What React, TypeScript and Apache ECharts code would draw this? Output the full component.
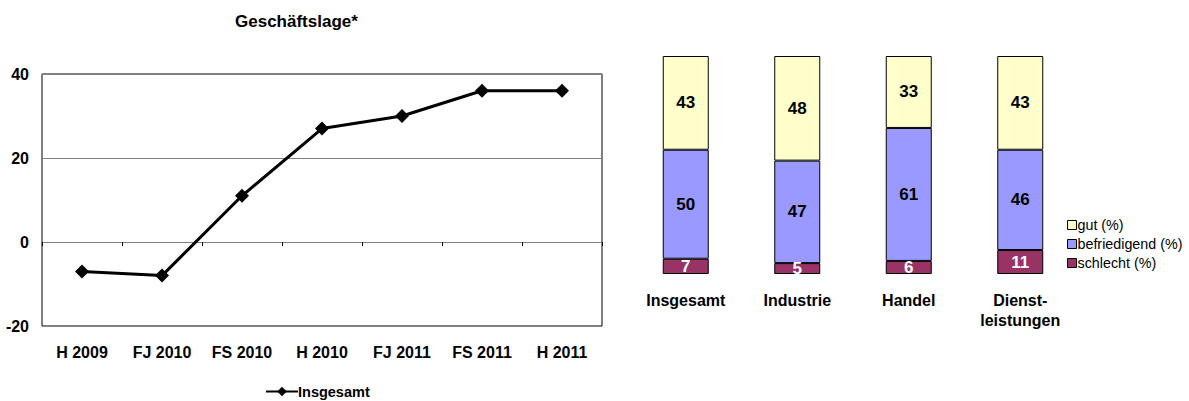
import React, { useEffect, useRef } from "react";
import * as echarts from "echarts";

const periods = ["H 2009", "FJ 2010", "FS 2010", "H 2010", "FJ 2011", "FS 2011", "H 2011"];
const insgesamt = [-7, -8, 11, 27, 30, 36, 36];

const sectors = ["Insgesamt", "Industrie", "Handel", "Dienst-\nleistungen"];
const schlecht = [7, 5, 6, 11];
const befriedigend = [50, 47, 61, 46];
const gut = [43, 48, 33, 43];

const FONT = "Liberation Sans, Arial, sans-serif";

export default function App() {
  const ref = useRef<HTMLDivElement>(null);
  useEffect(() => {
    if (!ref.current) return;
    const chart = echarts.init(ref.current, null, { renderer: "svg" });
    const barLabel = (color: string) => ({
      show: true,
      position: "inside",
      color,
      fontFamily: FONT,
      fontWeight: "bold",
      fontSize: 17,
    });
    chart.setOption({
      animation: false,
      textStyle: { fontFamily: FONT },
      title: {
        text: "Geschäftslage*",
        left: 230,
        top: 8,
        textStyle: { fontFamily: FONT, fontWeight: "bold", fontSize: 17, color: "#000" },
      },
      legend: [
        {
          data: ["Insgesamt"],
          left: 260,
          top: 379,
          itemWidth: 32,
          itemHeight: 12,
          textStyle: {
            fontFamily: FONT,
            fontWeight: "bold",
            fontSize: 14.5,
            color: "#000",
            padding: [0, 0, 0, -5],
          },
        },
        {
          data: ["gut (%)", "befriedigend (%)", "schlecht (%)"],
          orient: "vertical",
          left: 1062,
          top: 213,
          itemWidth: 9,
          itemHeight: 9,
          itemGap: 5,
          icon: "rect",
          itemStyle: { borderColor: "#000", borderWidth: 1 },
          textStyle: { fontFamily: FONT, fontSize: 14.3, color: "#000", padding: [0, 0, 0, -4] },
        },
      ],
      grid: [
        { left: 42, top: 74, width: 560, height: 252, show: true, borderColor: "#000", borderWidth: 1 },
        { left: 630, top: 56, width: 446, height: 218 },
      ],
      xAxis: [
        {
          gridIndex: 0,
          type: "category",
          data: periods,
          position: "bottom",
          axisLine: { show: false, onZero: false },
          axisTick: { show: false },
          axisLabel: { margin: 18, fontFamily: FONT, fontWeight: "bold", fontSize: 16, color: "#000" },
        },
        {
          gridIndex: 0,
          type: "category",
          data: periods,
          position: "top",
          axisLine: { show: true, onZero: true, lineStyle: { color: "#808080", width: 1 } },
          axisTick: { show: true, inside: true, length: 4, lineStyle: { color: "#000" } },
          axisLabel: { show: false },
        },
        {
          gridIndex: 1,
          type: "category",
          data: sectors,
          axisLine: { show: false },
          axisTick: { show: false },
          axisLabel: {
            margin: 16,
            fontFamily: FONT,
            fontWeight: "bold",
            fontSize: 16,
            color: "#000",
            lineHeight: 20,
          },
        },
      ],
      yAxis: [
        {
          gridIndex: 0,
          type: "value",
          min: -20,
          max: 40,
          interval: 20,
          axisLine: { show: false },
          axisTick: { show: false },
          axisLabel: { margin: 13, fontFamily: FONT, fontWeight: "bold", fontSize: 16, color: "#000" },
          splitLine: { show: true, lineStyle: { color: "#808080", width: 1 } },
        },
        {
          gridIndex: 1,
          type: "value",
          min: 0,
          max: 100,
          show: false,
        },
      ],
      series: [
        {
          name: "Insgesamt",
          type: "line",
          xAxisIndex: 0,
          yAxisIndex: 0,
          data: insgesamt,
          color: "#000",
          lineStyle: { color: "#000", width: 3 },
          symbol: "diamond",
          symbolSize: 14,
          itemStyle: { color: "#000" },
        },
        {
          name: "schlecht (%)",
          type: "bar",
          stack: "s",
          xAxisIndex: 2,
          yAxisIndex: 1,
          data: schlecht,
          barWidth: 46,
          itemStyle: { color: "#993366", borderColor: "#000", borderWidth: 1 },
          label: barLabel("#fff"),
        },
        {
          name: "befriedigend (%)",
          type: "bar",
          stack: "s",
          xAxisIndex: 2,
          yAxisIndex: 1,
          data: befriedigend,
          barWidth: 46,
          itemStyle: { color: "#9999FF", borderColor: "#000", borderWidth: 1 },
          label: barLabel("#000"),
        },
        {
          name: "gut (%)",
          type: "bar",
          stack: "s",
          xAxisIndex: 2,
          yAxisIndex: 1,
          data: gut,
          barWidth: 46,
          itemStyle: { color: "#FFFFCC", borderColor: "#000", borderWidth: 1 },
          label: barLabel("#000"),
        },
      ],
    });
    return () => chart.dispose();
  }, []);
  return (
    <div
      ref={ref}
      style={{ position: "absolute", left: 0, top: 0, width: 1189, height: 401, background: "#fff" }}
    />
  );
}
